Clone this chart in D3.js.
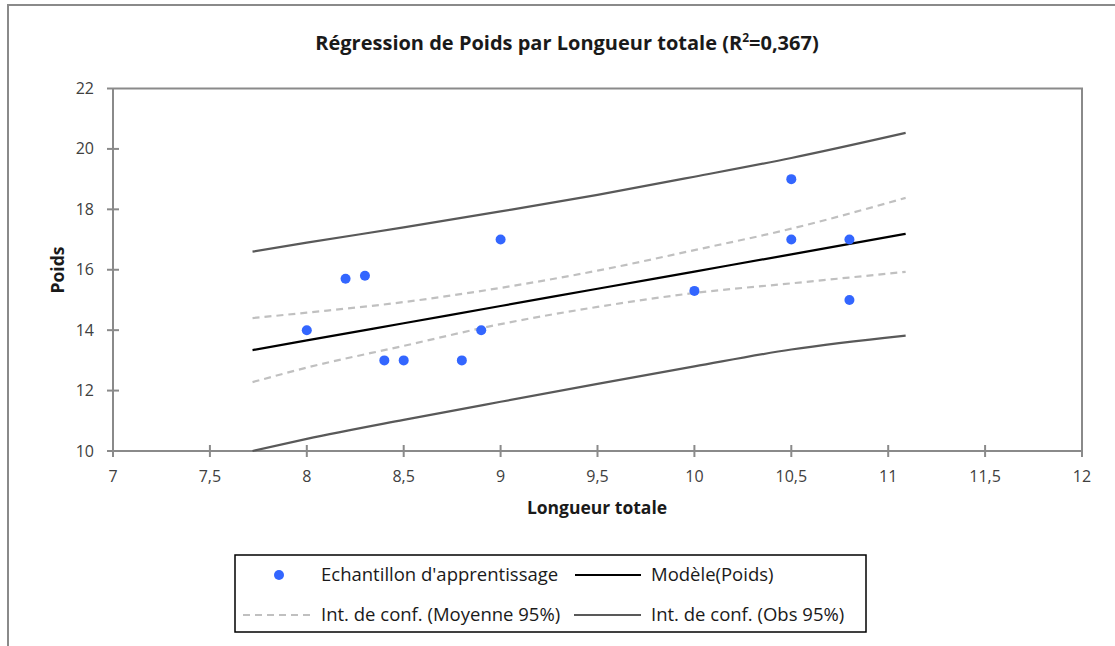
<!DOCTYPE html>
<html>
<head>
<meta charset="utf-8">
<script src="https://cdn.jsdelivr.net/npm/d3@7"></script>
<style>
  body { margin: 0; background: #fff; }
  text { font-family: "Open Sans", Lato, sans-serif; }
</style>
</head>
<body>
<div id="chart"></div>
<script>
// observations (Longueur totale, Poids)
var sampleX = [8, 8.2, 8.3, 8.4, 8.5, 8.8, 8.9, 9, 10, 10.5, 10.5, 10.8, 10.8];
var sampleY = [14, 15.7, 15.8, 13, 13, 13, 14, 17, 15.3, 19, 17, 17, 15];

// lines at these x positions
var lineX = [7.72, 8, 8.5, 9, 9.5, 10, 10.5, 11.09];
var model = [13.34, 13.66, 14.23, 14.80, 15.37, 15.94, 16.51, 17.19];
var meanUpper = [14.40, 14.58, 14.93, 15.40, 15.97, 16.65, 17.36, 18.38];
var meanLower = [12.28, 12.76, 13.48, 14.20, 14.77, 15.23, 15.55, 15.93];
var obsUpper = [16.60, 16.90, 17.40, 17.93, 18.48, 19.08, 19.70, 20.53];
var obsLower = [10.0, 10.40, 11.03, 11.63, 12.22, 12.80, 13.36, 13.82];

var xTicks = [7, 7.5, 8, 8.5, 9, 9.5, 10, 10.5, 11, 11.5, 12];
var yTicks = [10, 12, 14, 16, 18, 20, 22];

var legendLabels = ["Echantillon d'apprentissage", "Modèle(Poids)",
  "Int. de conf. (Moyenne 95%)", "Int. de conf. (Obs 95%)"];

var W = 1115, H = 646;
var svg = d3.select("#chart").append("svg")
  .attr("width", W).attr("height", H);

// outer chart frame
svg.append("rect")
  .attr("x", 8).attr("y", 5).attr("width", 1130).attr("height", 660)
  .attr("fill", "#fff").attr("stroke", "#8a8a8a").attr("stroke-width", 2);

var x = d3.scaleLinear().domain([7, 12]).range([113, 1082]);
var y = d3.scaleLinear().domain([10, 22]).range([451, 88.5]);

var fmt = function(d) { return String(d).replace(".", ","); };

// plot frame (top + right)
svg.append("path")
  .attr("d", "M" + x(7) + "," + y(22) + "H" + x(12) + "V" + y(10))
  .attr("fill", "none").attr("stroke", "#8a8a8a").attr("stroke-width", 2);

// axes with crossing ticks
var xAxis = svg.append("g").attr("transform", "translate(0," + y(10) + ")");
xAxis.append("line").attr("x1", x(7)).attr("x2", x(12))
  .attr("stroke", "#8a8a8a").attr("stroke-width", 2);
xAxis.selectAll(".tk").data(xTicks).enter().append("line")
  .attr("x1", function(d) { return x(d); }).attr("x2", function(d) { return x(d); })
  .attr("y1", -6).attr("y2", 6)
  .attr("stroke", "#8a8a8a").attr("stroke-width", 2);
xAxis.selectAll(".lb").data(xTicks).enter().append("text")
  .attr("x", function(d) { return x(d); }).attr("y", 31)
  .attr("text-anchor", "middle").attr("font-size", 16).attr("fill", "#404040")
  .text(fmt);

var yAxis = svg.append("g").attr("transform", "translate(" + x(7) + ",0)");
yAxis.append("line").attr("y1", y(10)).attr("y2", y(22))
  .attr("stroke", "#8a8a8a").attr("stroke-width", 2);
yAxis.selectAll(".tk").data(yTicks).enter().append("line")
  .attr("y1", function(d) { return y(d); }).attr("y2", function(d) { return y(d); })
  .attr("x1", -6).attr("x2", d => d == 22 ? 0 : 6)
  .attr("stroke", "#8a8a8a").attr("stroke-width", 2);
yAxis.selectAll(".lb").data(yTicks).enter().append("text")
  .attr("x", -19).attr("y", function(d) { return y(d) + 5.5; })
  .attr("text-anchor", "end").attr("font-size", 16).attr("fill", "#404040")
  .text(fmt);

// titles
var title = svg.append("text").attr("x", 567).attr("y", 50)
  .attr("text-anchor", "middle").attr("font-size", 20).attr("font-weight", "bold")
  .attr("fill", "#1a1a1a");
title.append("tspan").text("Régression de Poids par Longueur totale (R");
title.append("tspan").attr("font-size", 12).attr("dy", -8).text("2");
title.append("tspan").attr("dy", 8).text("=0,367)");

svg.append("text").attr("x", 597).attr("y", 514)
  .attr("text-anchor", "middle").attr("font-size", 17.5).attr("font-weight", "bold")
  .attr("fill", "#1a1a1a").text("Longueur totale");

svg.append("text").attr("transform", "translate(64,270) rotate(-90)")
  .attr("text-anchor", "middle").attr("font-size", 17.5).attr("font-weight", "bold")
  .attr("fill", "#1a1a1a").text("Poids");

// lines
var line = d3.line()
  .curve(d3.curveMonotoneX)
  .x(function(d) { return x(d[0]); })
  .y(function(d) { return y(d[1]); });

function drawLine(vals, color, width, dash) {
  svg.append("path")
    .datum(d3.zip(lineX, vals))
    .attr("fill", "none")
    .attr("stroke", color)
    .attr("stroke-width", width)
    .attr("stroke-dasharray", dash)
    .attr("d", line);
}

drawLine(meanUpper, "#c0c0c0", 2.2, "7,5");
drawLine(meanLower, "#c0c0c0", 2.2, "7,5");
drawLine(obsUpper, "#595959", 2.2, null);
drawLine(obsLower, "#595959", 2.2, null);
drawLine(model, "#000000", 2.2, null);

// points
svg.append("g").selectAll("circle")
  .data(d3.zip(sampleX, sampleY))
  .enter().append("circle")
    .attr("cx", function(d) { return x(d[0]); })
    .attr("cy", function(d) { return y(d[1]); })
    .attr("r", 5)
    .attr("fill", "#3366ff");

// legend
var lg = svg.append("g");
lg.append("rect").attr("x", 235).attr("y", 555).attr("width", 631).attr("height", 77)
  .attr("fill", "#fff").attr("stroke", "#000").attr("stroke-width", 1.5);

lg.append("circle").attr("cx", 279).attr("cy", 575).attr("r", 5).attr("fill", "#3366ff");
lg.append("line").attr("x1", 575).attr("x2", 641).attr("y1", 575).attr("y2", 575)
  .attr("stroke", "#000").attr("stroke-width", 2.2);
lg.append("line").attr("x1", 243).attr("x2", 313).attr("y1", 615).attr("y2", 615)
  .attr("stroke", "#c0c0c0").attr("stroke-width", 2.2).attr("stroke-dasharray", "7,5");
lg.append("line").attr("x1", 574).attr("x2", 641).attr("y1", 615).attr("y2", 615)
  .attr("stroke", "#595959").attr("stroke-width", 2.2);

var legendPos = [[321, 581], [651, 581], [321, 621], [651, 621]];
lg.selectAll(".lt").data(legendLabels).enter().append("text")
  .attr("x", function(d, i) { return legendPos[i][0]; })
  .attr("y", function(d, i) { return legendPos[i][1]; })
  .attr("font-size", 18.5).attr("fill", "#1a1a1a")
  .text(function(d) { return d; });
</script>
</body>
</html>
